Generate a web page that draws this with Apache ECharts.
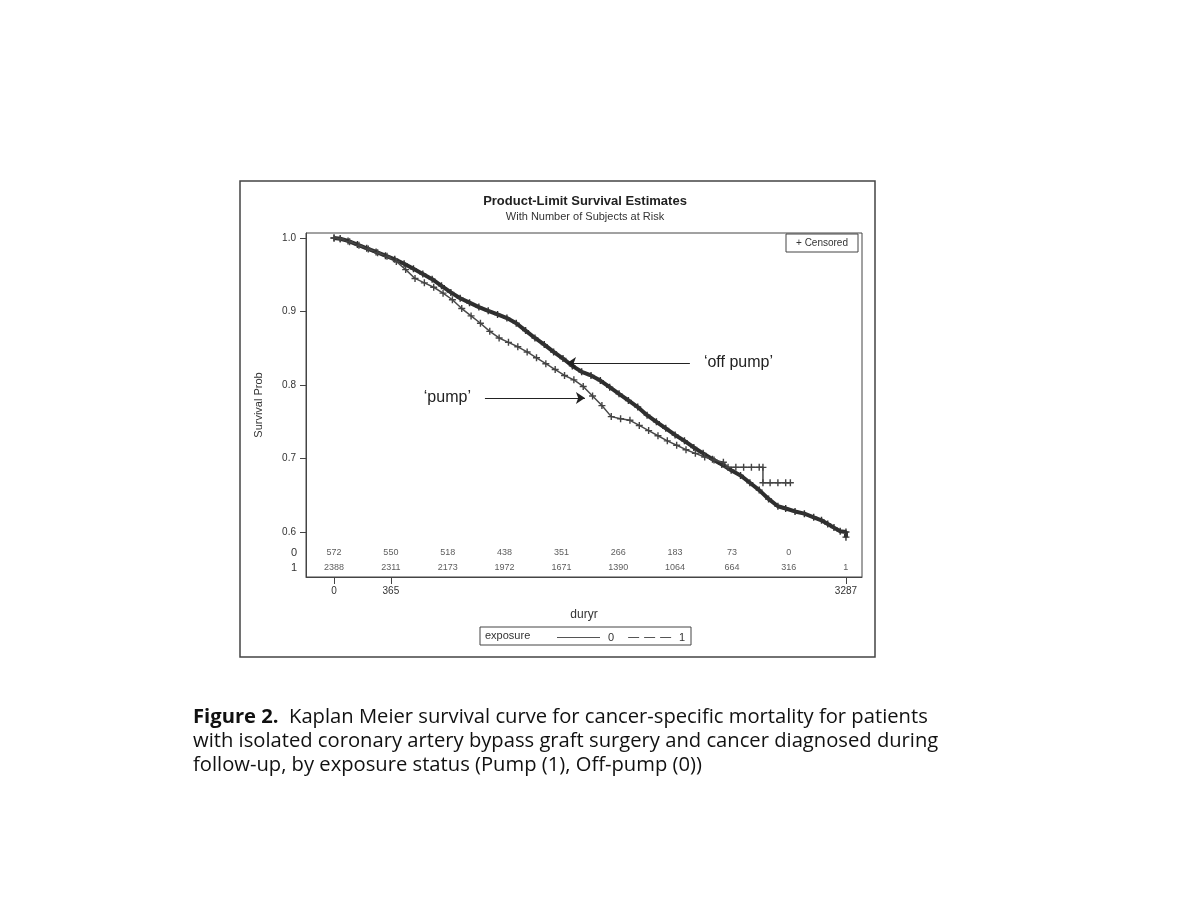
<!DOCTYPE html>
<html>
<head>
<meta charset="utf-8">
<title>Product-Limit Survival Estimates</title>
<script src="https://cdn.jsdelivr.net/npm/echarts@6/dist/echarts.min.js"></script>
<style>
  html, body { margin: 0; padding: 0; background: #fff; }
  #chart { width: 1200px; height: 900px; }
</style>
</head>
<body>
<div id="chart"></div>
<script>
// exposure 1 (pump)
var days1 = [0, 40, 90, 150, 210, 270, 330, 390, 450, 510, 570, 630, 690, 750, 810, 870, 930, 990, 1050, 1110,
  1170, 1230, 1290, 1350, 1410, 1470, 1530, 1590, 1650, 1710, 1770, 1830, 1890, 1950, 2010, 2070, 2130, 2190,
  2250, 2310, 2370, 2430, 2490, 2550, 2610, 2670, 2730, 2790, 2850, 2900, 2960, 3020, 3080, 3130, 3170, 3210, 3250, 3287, 3287]
var surv1 = [1.000, 0.999, 0.996, 0.991, 0.986, 0.981, 0.976, 0.971, 0.965, 0.958, 0.951, 0.944, 0.935, 0.926,
  0.918, 0.912, 0.906, 0.901, 0.896, 0.891, 0.884, 0.874, 0.864, 0.855, 0.845, 0.836, 0.826, 0.818, 0.813,
  0.806, 0.797, 0.788, 0.779, 0.770, 0.759, 0.750, 0.741, 0.732, 0.724, 0.715, 0.707, 0.699, 0.692, 0.684,
  0.677, 0.667, 0.657, 0.645, 0.635, 0.632, 0.628, 0.625, 0.620, 0.616, 0.611, 0.606, 0.601, 0.600, 0.593]

// exposure 0 (off-pump)
var days0 = [0, 40, 100, 160, 220, 280, 340, 400, 460, 520, 580, 640, 700, 760, 820, 880, 940, 1000, 1060, 1120,
  1180, 1240, 1300, 1360, 1420, 1480, 1540, 1600, 1660, 1720, 1780, 1840, 1900, 1960, 2020, 2080, 2140, 2200,
  2260, 2320, 2380, 2440, 2500, 2530, 2580, 2630, 2680, 2730, 2754, 2754, 2800, 2850, 2900, 2930]
var surv0 = [1.000, 0.999, 0.995, 0.990, 0.985, 0.980, 0.975, 0.968, 0.957, 0.945, 0.939, 0.933, 0.925, 0.916,
  0.904, 0.894, 0.884, 0.873, 0.864, 0.858, 0.852, 0.845, 0.837, 0.829, 0.821, 0.813, 0.807, 0.798, 0.785,
  0.772, 0.757, 0.754, 0.752, 0.745, 0.738, 0.731, 0.724, 0.718, 0.712, 0.707, 0.702, 0.698, 0.695, 0.688,
  0.688, 0.688, 0.688, 0.688, 0.688, 0.667, 0.667, 0.667, 0.667, 0.667]

// number of subjects at risk
var riskDays = [0, 365, 730, 1095, 1460, 1825, 2190, 2555, 2920, 3285]
var risk0 = [572, 550, 518, 438, 351, 266, 183, 73, 0]
var risk1 = [2388, 2311, 2173, 1972, 1671, 1390, 1064, 664, 316, 1]

var yTicks = [0.6, 0.7, 0.8, 0.9, 1.0]
var xTicks = [0, 365, 3287]

var FONT = "'Liberation Sans', Arial, sans-serif"
var CAP = "'Open Sans', sans-serif"
var plus = 'path://M4,0h2v4h4v2h-4v4h-2v-4h-4v-2h4z'

function pairs(xs, ys) {
  return xs.map(function (x, i) { return [x, ys[i]] })
}
var riskData = []
risk0.forEach(function (v, i) { riskData.push([riskDays[i], '0', v]) })
risk1.forEach(function (v, i) { riskData.push([riskDays[i], '1', v]) })

var chart = echarts.init(document.getElementById('chart'))
chart.setOption({
  animation: false,
  textStyle: { fontFamily: FONT },
  grid: [
    { left: 306, right: 338, top: 233, bottom: 323, show: true, borderColor: '#444', borderWidth: 1 },
    { left: 306, right: 338, top: 545, height: 30 }
  ],
  xAxis: [
    {
      type: 'value', gridIndex: 0, min: -180, max: 3390,
      name: 'duryr', nameLocation: 'middle', nameGap: 32,
      nameTextStyle: { fontSize: 12, color: '#333' },
      axisLine: { onZero: false, lineStyle: { color: '#444' } },
      axisTick: { customValues: xTicks, length: 7, lineStyle: { color: '#444' } },
      axisLabel: { customValues: xTicks, margin: 9, fontSize: 10, color: '#333',
        formatter: function (v) { return String(v) } },
      splitLine: { show: false }
    },
    { type: 'value', gridIndex: 1, min: -180, max: 3390, show: false }
  ],
  yAxis: [
    {
      type: 'value', gridIndex: 0, min: 0.5388, max: 1.0068,
      name: 'Survival Prob', nameLocation: 'middle', nameGap: 42,
      nameTextStyle: { fontSize: 11, color: '#333' },
      axisLine: { onZero: false, lineStyle: { color: '#444' } },
      axisTick: { customValues: yTicks, length: 6, lineStyle: { color: '#444' } },
      axisLabel: {
        customValues: yTicks, margin: 10, fontSize: 10, color: '#333',
        formatter: function (v) { return v.toFixed(1) }
      },
      splitLine: { show: false }
    },
    {
      type: 'category', gridIndex: 1, data: ['1', '0'],
      axisLine: { show: false }, axisTick: { show: false },
      axisLabel: { margin: 9, fontSize: 11, color: '#333' },
      splitLine: { show: false }
    }
  ],
  legend: {
    left: 552, top: 627, itemWidth: 43, itemHeight: 1, itemGap: 14,
    selectedMode: false,
    textStyle: { fontSize: 11, color: '#333', padding: [0, 0, 0, 3] },
    data: [
      { name: '0', icon: 'path://M0,0h43v1h-43z', itemStyle: { color: '#555' } },
      { name: '1', icon: 'path://M0,0h11v1h-11zM16,0h11v1h-11zM32,0h11v1h-11z', itemStyle: { color: '#555' } }
    ]
  },
  series: [
    {
      name: '1', type: 'line', xAxisIndex: 0, yAxisIndex: 0,
      data: pairs(days1, surv1),
      symbol: plus, symbolSize: 7, showSymbol: true,
      lineStyle: { color: '#2e2e2e', width: 4 },
      itemStyle: { color: '#333' },
      markLine: {
        silent: true, symbol: ['none', 'arrow'], symbolSize: 9,
        lineStyle: { color: '#222', width: 1, type: 'solid' },
        label: { show: true, position: 'start', distance: 14, fontSize: 16, color: '#222', fontFamily: FONT },
        data: [
          [{ coord: [2285, 0.830], label: { formatter: '\u2018off pump\u2019' } }, { coord: [1496, 0.830] }],
          [{ coord: [969, 0.7823], label: { formatter: '\u2018pump\u2019' } }, { coord: [1611, 0.7823] }]
        ]
      }
    },
    {
      name: '0', type: 'line', xAxisIndex: 0, yAxisIndex: 0,
      data: pairs(days0, surv0),
      symbol: plus, symbolSize: 7, showSymbol: true,
      lineStyle: { color: '#4a4a4a', width: 1.5 },
      itemStyle: { color: '#444' }
    },
    {
      name: 'atrisk', type: 'scatter', xAxisIndex: 1, yAxisIndex: 1,
      data: riskData, symbolSize: 1,
      itemStyle: { color: 'transparent' },
      label: {
        show: true, position: 'inside', fontSize: 9, color: '#333',
        formatter: function (p) { return p.value[2] }
      }
    }
  ],
  graphic: [
    { type: 'rect', shape: { x: 240, y: 181, width: 635, height: 476 }, style: { fill: 'none', stroke: '#444', lineWidth: 1.5 } },
    { type: 'text', x: 585, y: 201, style: { text: 'Product-Limit Survival Estimates', font: 'bold 13px ' + FONT, fill: '#222', align: 'center', verticalAlign: 'middle' } },
    { type: 'text', x: 585, y: 217, style: { text: 'With Number of Subjects at Risk', font: '11px ' + FONT, fill: '#333', align: 'center', verticalAlign: 'middle' } },
    { type: 'rect', shape: { x: 786, y: 234, width: 72, height: 18 }, style: { fill: '#fff', stroke: '#444', lineWidth: 1 } },
    { type: 'text', x: 822, y: 243, style: { text: '+ Censored', font: '10px ' + FONT, fill: '#333', align: 'center', verticalAlign: 'middle' } },
    { type: 'rect', shape: { x: 480, y: 627, width: 211, height: 18 }, style: { fill: 'none', stroke: '#444', lineWidth: 1 } },
    { type: 'text', x: 485, y: 636, style: { text: 'exposure', font: '11px ' + FONT, fill: '#333', align: 'left', verticalAlign: 'middle' } },
    {
      type: 'text', x: 193, y: 717,
      style: {
        text: '{b|Figure 2.}  Kaplan Meier survival curve for cancer-specific mortality for patients',
        fontFamily: CAP, fontSize: 20.2, fill: '#111', verticalAlign: 'middle',
        rich: { b: { fontWeight: 'bold', fontFamily: CAP, fontSize: 20.2, fill: '#111' } }
      }
    },
    { type: 'text', x: 193, y: 741, style: { text: 'with isolated coronary artery bypass graft surgery and cancer diagnosed during', font: '20.2px ' + CAP, fill: '#111', verticalAlign: 'middle' } },
    { type: 'text', x: 193, y: 765, style: { text: 'follow-up, by exposure status (Pump (1), Off-pump (0))', font: '20.2px ' + CAP, fill: '#111', verticalAlign: 'middle' } }
  ]
})
</script>
</body>
</html>
